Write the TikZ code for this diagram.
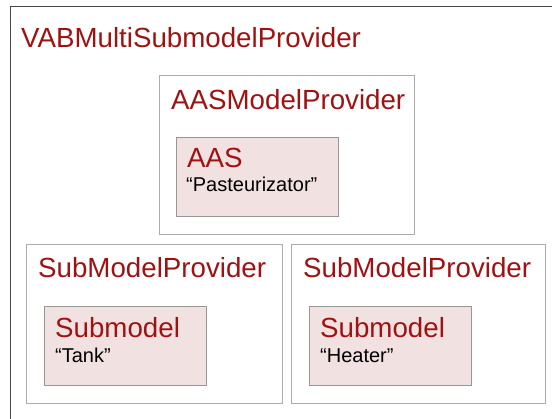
\documentclass[tikz,border=0pt]{standalone}
\usepackage{fontspec}
\setmainfont{Liberation Sans}
\usetikzlibrary{positioning}

\definecolor{provred}{RGB}{160,18,18}
\definecolor{modelpink}{RGB}{242,225,225}
\definecolor{boxgray}{RGB}{172,172,172}
\definecolor{modelgray}{RGB}{150,150,150}
\definecolor{outergray}{RGB}{70,70,70}

\begin{document}
\begin{tikzpicture}[
    x=1pt, y=-1pt,
    provider/.style={draw=boxgray, line width=1.3pt, fill=white, anchor=north west, inner sep=0pt,
        minimum width=255pt, minimum height=159pt},
    model/.style={draw=modelgray, line width=1.3pt, fill=modelpink, anchor=north west, inner sep=0pt,
        minimum width=162pt, minimum height=79pt},
    heading/.style={text=provred, font=\fontsize{27.7}{30}\selectfont, anchor=base west, inner sep=0pt},
    caption/.style={font=\fontsize{20}{24}\selectfont, anchor=base west, inner sep=0pt}
]
\useasboundingbox (0,0) rectangle (552,419);
\fill[white] (0,0) rectangle (552,419);

% outer provider, runs past the page on the right and below
\begin{scope}
\clip (0,0) rectangle (552,419);
\node[draw=outergray, line width=1.3pt, fill=white, anchor=north west, inner sep=0pt,
    minimum width=570pt, minimum height=440pt] (multi) at (10,6) {};
\end{scope}
\node[heading] (multititle) at (21,48) {VABMultiSubmodelProvider};

% AAS provider
\node[provider] (aasprov) at (159,75) {};
\node[heading, below right=35pt and 12pt of aasprov.north west, anchor=base west] (aasprovtitle) {AASModelProvider};
\node[model] (aas) at (176,137) {};
\node[heading, below right=31pt and 11pt of aas.north west, anchor=base west] (aastitle) {AAS};
\node[caption, below right=55pt and 10pt of aas.north west, anchor=base west] (aasname) {“Pasteurizator”};

% submodel providers
\node[provider, minimum width=256pt] (tankprov) at (26,244) {};
\node[heading, below right=34pt and 12pt of tankprov.north west, anchor=base west] (tankprovtitle) {SubModelProvider};
\node[model] (tank) at (44,306) {};
\node[heading, below right=32pt and 11pt of tank.north west, anchor=base west] (tanktitle) {Submodel};
\node[caption, below right=57pt and 11pt of tank.north west, anchor=base west] (tankname) {“Tank”};

\node[provider, minimum width=254pt] (heaterprov) at (291,244) {};
\node[heading, below right=34pt and 12pt of heaterprov.north west, anchor=base west] (heaterprovtitle) {SubModelProvider};
\node[model] (heater) at (309,306) {};
\node[heading, below right=32pt and 11pt of heater.north west, anchor=base west] (heatertitle) {Submodel};
\node[caption, below right=57pt and 11pt of heater.north west, anchor=base west] (heatername) {“Heater”};
\end{tikzpicture}
\end{document}
